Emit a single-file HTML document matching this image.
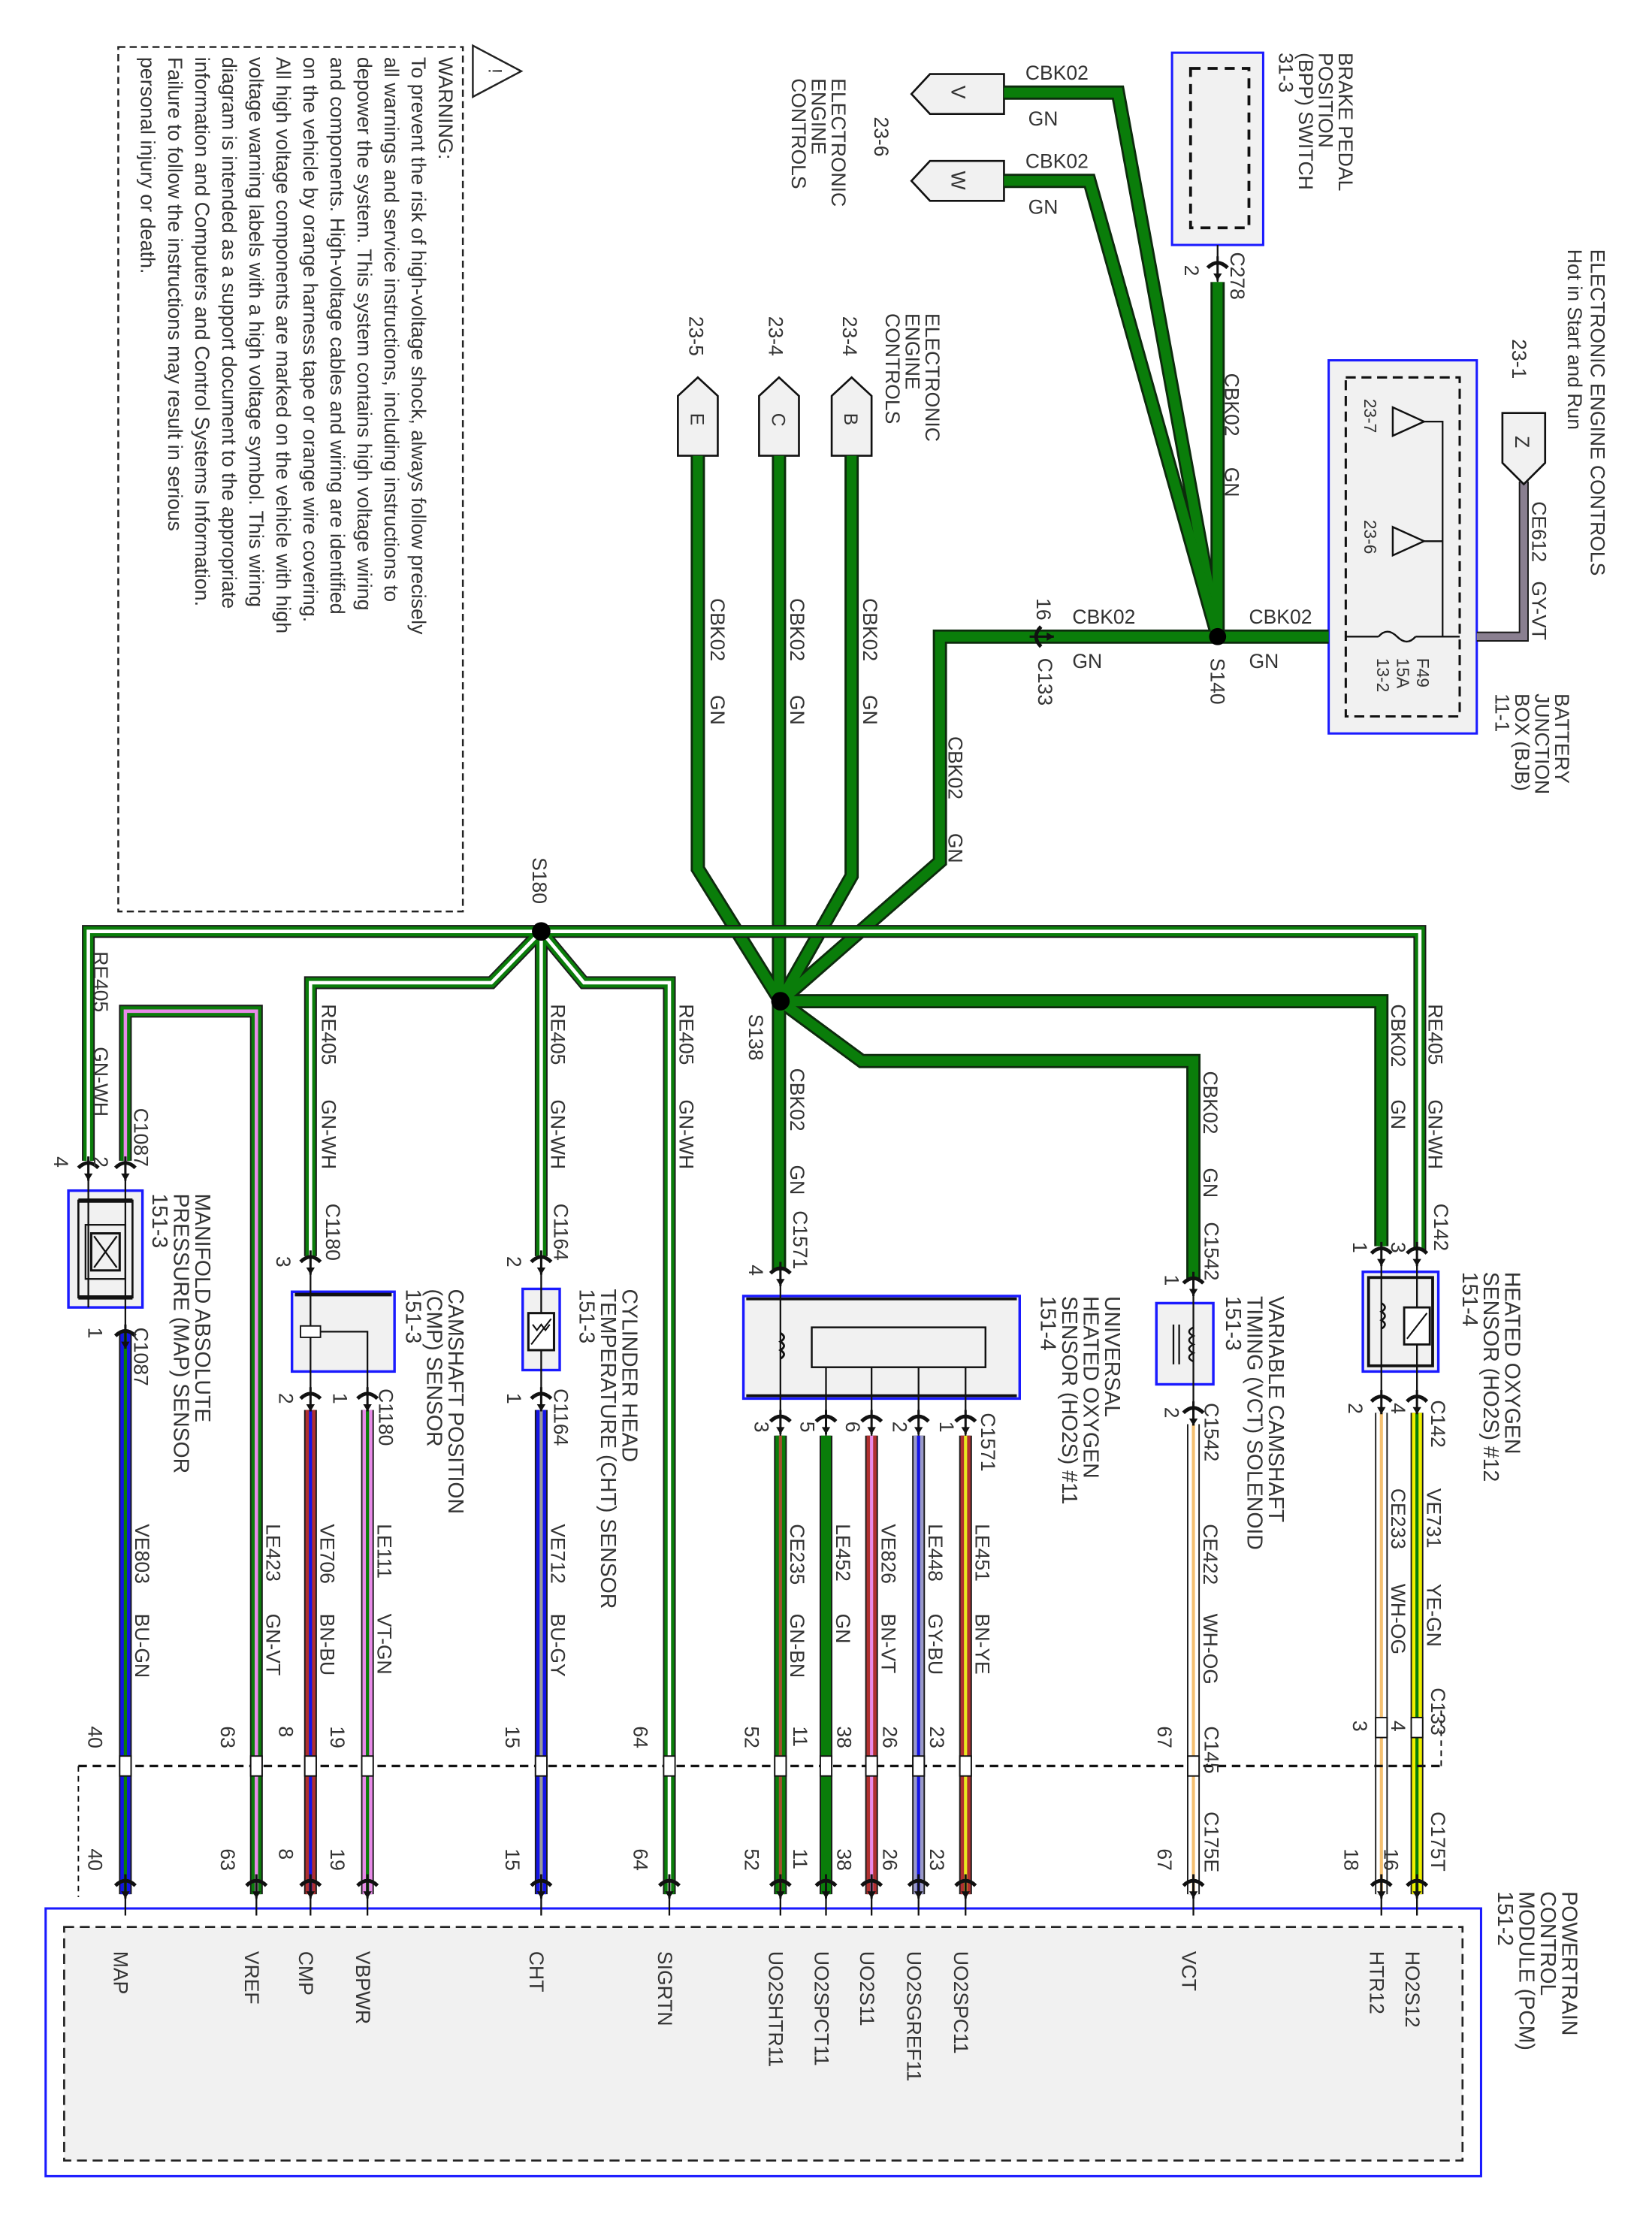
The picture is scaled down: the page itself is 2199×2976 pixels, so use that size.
<!DOCTYPE html>
<html><head><meta charset="utf-8"><style>
html,body{margin:0;padding:0;background:#fff}
svg{display:block}
text{font-family:"Liberation Sans",sans-serif;fill:#333}
.o{fill:none;stroke:#1a1a1a;stroke-linejoin:miter}
.n{fill:none;stroke-linejoin:miter}
</style></head><body>
<svg width="2199" height="2976" viewBox="0 0 1160 1570" xmlns="http://www.w3.org/2000/svg">
<defs>
<g id="pin"><path d="M-7,-2 Q0,-9 7,-2" fill="none" stroke="#111" stroke-width="2.6"/><path d="M0,-10 V7" stroke="#111" stroke-width="1.6"/><path d="M-3,2 L0,7 L3,2" fill="#111"/></g>
</defs>

<!-- Warning box -->
<rect x="83" y="33" width="242" height="607" fill="none" stroke="#222" stroke-width="1.3" stroke-dasharray="5,3"/>
<path d="M332,32 L366,50 L332,68 Z" fill="#fff" stroke="#222" stroke-width="1.3"/>
<text transform="translate(343,48) rotate(90)" font-size="13">!</text>
<g font-size="14.2">
<text transform="translate(308,40) rotate(90)">WARNING:</text>
<text transform="translate(289,40) rotate(90)">To prevent the risk of high-voltage shock, always follow precisely</text>
<text transform="translate(270,40) rotate(90)">all warnings and service instructions, including instructions to</text>
<text transform="translate(251,40) rotate(90)">depower the system. This system contains high voltage wiring</text>
<text transform="translate(232,40) rotate(90)">and components. High-voltage cables and wiring are identified</text>
<text transform="translate(213,40) rotate(90)">on the vehicle by orange harness tape or orange wire covering.</text>
<text transform="translate(194,40) rotate(90)">All high voltage components are marked on the vehicle with high</text>
<text transform="translate(175,40) rotate(90)">voltage warning labels with a high voltage symbol. This wiring</text>
<text transform="translate(156,40) rotate(90)">diagram is intended as a support document to the appropriate</text>
<text transform="translate(137,40) rotate(90)">information and Computers and Control Systems Information.</text>
<text transform="translate(118,40) rotate(90)">Failure to follow the instructions may result in serious</text>
<text transform="translate(99,40) rotate(90)">personal injury or death.</text>
</g>

<!-- PCM -->
<rect x="32" y="1340" width="1008" height="188" fill="#fff" stroke="#1a1aff" stroke-width="1.6"/>
<rect x="45" y="1353" width="982" height="164" fill="#f1f1f1" stroke="#222" stroke-width="1.4" stroke-dasharray="7,4"/>

<!-- BPP -->
<rect x="823" y="37" width="64" height="135" fill="#f1f1f1" stroke="#1a1aff" stroke-width="1.6"/>
<rect x="836" y="48" width="41" height="112" fill="none" stroke="#111" stroke-width="2" stroke-dasharray="7,5"/>
<path d="M855,172 V198" stroke="#111" stroke-width="1.2"/>
<use href="#pin" x="855" y="190"/>

<!-- BJB -->
<rect x="933" y="253" width="104" height="262" fill="#f1f1f1" stroke="#1a1aff" stroke-width="1.6"/>
<rect x="945" y="265" width="80" height="238" fill="none" stroke="#111" stroke-width="1.6" stroke-dasharray="7,4"/>
<path d="M978,286 L1000,296 L978,306 Z M978,370 L1000,380 L978,390 Z" fill="none" stroke="#111" stroke-width="1.3"/>
<path d="M1000,296 H1013 V447 M1000,380 H1013" stroke="#111" stroke-width="1.2" fill="none"/>
<path d="M945,447 H968 M994,447 H1025" stroke="#111" stroke-width="1.2"/>
<path d="M968,447 Q974,440 981,447 Q988,454 994,447" fill="none" stroke="#111" stroke-width="1.3"/>
<path class="o" d="M1070,338 V447 H1037" stroke-width="7"/>
<path class="n" d="M1070,338 V447 H1037" stroke="#8a7f90" stroke-width="5"/>
<path d="M1055,290 H1085 V325 L1070,340 L1055,325 Z" fill="#f1f1f1" stroke="#111" stroke-width="1.4"/>
<text transform="translate(1064,306) rotate(90)" font-size="14">Z</text>

<!-- connectors V W -->
<path d="M705,52 H653 L640,66 L653,80 H705 Z" fill="#f1f1f1" stroke="#111" stroke-width="1.4"/>
<path d="M705,113 H653 L640,127 L653,141 H705 Z" fill="#f1f1f1" stroke="#111" stroke-width="1.4"/>
<text transform="translate(668,60) rotate(90)" font-size="14">V</text>
<text transform="translate(668,120) rotate(90)" font-size="14">W</text>
<path d="M476,320 V278 L490,265 L504,278 V320 Z M533,320 V278 L547,265 L561,278 V320 Z M584,320 V278 L598,265 L612,278 V320 Z" fill="#f1f1f1" stroke="#111" stroke-width="1.4"/>
<text transform="translate(485,290) rotate(90)" font-size="13">E</text>
<text transform="translate(542,290) rotate(90)" font-size="13">C</text>
<text transform="translate(593,290) rotate(90)" font-size="13">B</text>

<!-- wires -->
<g fill="none" stroke-linejoin="miter">
<g stroke="#0d2b0d" stroke-width="10">
<path d="M705,65 H785 L855,447"/><path d="M705,127 H765 L855,447"/><path d="M855,198 V447"/>
<path d="M933,447 H660 V605 L548,703"/><path d="M490,320 V610 L548,703"/><path d="M547,320 V892"/>
<path d="M598,320 V615 L548,703"/><path d="M548,703 H970 V875"/><path d="M548,703 L605,745 H838 V898"/>
</g>
<g stroke="#0a7d0a" stroke-width="7">
<path d="M705,65 H785 L855,447"/><path d="M705,127 H765 L855,447"/><path d="M855,198 V447"/>
<path d="M933,447 H660 V605 L548,703"/><path d="M490,320 V610 L548,703"/><path d="M547,320 V892"/>
<path d="M598,320 V615 L548,703"/><path d="M548,703 H970 V875"/><path d="M548,703 L605,745 H838 V898"/>
</g>
<g stroke="#1a1a1a" stroke-width="9">
<path d="M62,815 V654 H997 V878"/><path d="M380,654 L345,690 H218 V882"/><path d="M380,654 V882"/><path d="M380,654 L410,690 H470 V1330"/>
<path d="M88,815 V710 H180 V1330"/>
</g>
<g stroke="#0a7d0a" stroke-width="7">
<path d="M62,815 V654 H997 V878"/><path d="M380,654 L345,690 H218 V882"/><path d="M380,654 V882"/><path d="M380,654 L410,690 H470 V1330"/>
<path d="M88,815 V710 H180 V1330"/>
</g>
<g stroke="#fff" stroke-width="2.4">
<path d="M62,815 V654 H997 V878"/><path d="M380,654 L345,690 H218 V882"/><path d="M380,654 V882"/><path d="M380,654 L410,690 H470 V1330"/>
</g>
<path d="M88,815 V710 H180 V1330" stroke="#e88be8" stroke-width="2.4"/>
<g stroke="#1a1a1a" stroke-width="9">
<path d="M88,935 V1330"/><path d="M218,990 V1330"/><path d="M258,990 V1330"/><path d="M380,990 V1330"/>
<path d="M548,1008 V1330"/><path d="M580,1008 V1330"/><path d="M612,1008 V1330"/><path d="M645,1008 V1330"/><path d="M678,1008 V1330"/>
<path d="M838,1000 V1330"/><path d="M970,992 V1330"/><path d="M995,992 V1330"/>
</g>
<path d="M88,935 V1330" stroke="#1414e6" stroke-width="7"/><path d="M88,935 V1330" stroke="#0a7d0a" stroke-width="2.2"/>
<path d="M218,990 V1330" stroke="#b03030" stroke-width="7"/><path d="M218,990 V1330" stroke="#1414e6" stroke-width="2.2"/>
<path d="M258,990 V1330" stroke="#e88be8" stroke-width="7"/><path d="M258,990 V1330" stroke="#0a7d0a" stroke-width="2.2"/>
<path d="M380,990 V1330" stroke="#1414e6" stroke-width="7"/><path d="M380,990 V1330" stroke="#999" stroke-width="2.2"/>
<path d="M548,1008 V1330" stroke="#0a7d0a" stroke-width="7"/><path d="M548,1008 V1330" stroke="#a0522d" stroke-width="2.2"/>
<path d="M580,1008 V1330" stroke="#0a7d0a" stroke-width="7"/>
<path d="M612,1008 V1330" stroke="#b03030" stroke-width="7"/><path d="M612,1008 V1330" stroke="#e88be8" stroke-width="2.2"/>
<path d="M645,1008 V1330" stroke="#9a9ac8" stroke-width="7"/><path d="M645,1008 V1330" stroke="#1414e6" stroke-width="2.2"/>
<path d="M678,1008 V1330" stroke="#b03030" stroke-width="7"/><path d="M678,1008 V1330" stroke="#e8e820" stroke-width="2.2"/>
<path d="M838,1000 V1330" stroke="#fff" stroke-width="7"/><path d="M838,1000 V1330" stroke="#f5c070" stroke-width="2.2"/>
<path d="M970,992 V1330" stroke="#fff" stroke-width="7"/><path d="M970,992 V1330" stroke="#f5c070" stroke-width="2.2"/>
<path d="M995,992 V1330" stroke="#f0f000" stroke-width="7"/><path d="M995,992 V1330" stroke="#0a7d0a" stroke-width="2.2"/>
</g>

<circle cx="855" cy="447" r="6" fill="#000"/>
<circle cx="380" cy="654" r="6.5" fill="#000"/>
<circle cx="548" cy="703" r="6.5" fill="#000"/>

<path d="M55,1240 H1012" stroke="#111" stroke-width="1.8" stroke-dasharray="6,4"/>
<path d="M55,1240 V1332 M1012,1240 V1200" stroke="#111" stroke-width="1" stroke-dasharray="4,3"/>
<g fill="#fff" stroke="#111" stroke-width="1">
<rect x="84" y="1233" width="8" height="14"/><rect x="176" y="1233" width="8" height="14"/><rect x="214" y="1233" width="8" height="14"/><rect x="254" y="1233" width="8" height="14"/><rect x="376" y="1233" width="8" height="14"/><rect x="466" y="1233" width="8" height="14"/><rect x="544" y="1233" width="8" height="14"/><rect x="576" y="1233" width="8" height="14"/><rect x="608" y="1233" width="8" height="14"/><rect x="641" y="1233" width="8" height="14"/><rect x="674" y="1233" width="8" height="14"/><rect x="834" y="1233" width="8" height="14"/><rect x="966" y="1206" width="8" height="14"/><rect x="991" y="1206" width="8" height="14"/>
</g>

<!-- components -->
<rect x="48" y="836" width="52" height="82" fill="#f1f1f1" stroke="#1a1aff" stroke-width="1.8"/>
<rect x="55" y="843" width="38" height="68" fill="none" stroke="#111" stroke-width="1.4"/>
<path d="M55,843 H93 M55,911 H93" stroke="#111" stroke-width="3"/>
<rect x="60" y="860" width="28" height="38" fill="#f1f1f1" stroke="#111" stroke-width="1.2"/>
<rect x="64" y="866" width="20" height="26" fill="none" stroke="#111" stroke-width="1.6"/>
<path d="M66,868 L82,890 M82,868 L66,890" stroke="#111" stroke-width="1.2"/>
<path d="M62,818 V918 M88,818 V935" stroke="#111" stroke-width="1.2"/>

<rect x="205" y="907" width="72" height="56" fill="#f1f1f1" stroke="#1a1aff" stroke-width="1.8"/>
<path d="M207,909 H275" stroke="#111" stroke-width="2.5"/>
<path d="M218,885 V990 M213,935 H258 V990" stroke="#111" stroke-width="1.2" fill="none"/>
<rect x="211" y="931" width="14" height="8" fill="#fff" stroke="#111"/>

<rect x="367" y="905" width="26" height="57" fill="#f1f1f1" stroke="#1a1aff" stroke-width="1.8"/>
<path d="M380,885 V990" stroke="#111" stroke-width="1.2"/>
<rect x="371" y="922" width="18" height="26" fill="#fff" stroke="#111" stroke-width="1.6"/>
<path d="M373,944 L387,926 M374,930 l3,4 l3,-4 l3,4 l3,-4" stroke="#111" fill="none" stroke-width="1.1"/>

<rect x="522" y="910" width="194" height="72" fill="#f1f1f1" stroke="#1a1aff" stroke-width="1.8"/>
<path d="M524,912 H714 M524,980 H714" stroke="#111" stroke-width="2"/>
<rect x="570" y="932" width="122" height="28" fill="#f1f1f1" stroke="#111" stroke-width="1.3"/>
<path d="M548,895 V1008 M580,960 V1008 M612,960 V1008 M645,960 V1008 M678,960 V1008" stroke="#111" stroke-width="1.2"/>
<path d="M548,936 q5,3 0,6 q5,3 0,6 q5,3 0,6" fill="none" stroke="#111" stroke-width="1.5"/>

<rect x="812" y="915" width="40" height="57" fill="#f1f1f1" stroke="#1a1aff" stroke-width="1.8"/>
<path d="M838,900 V1000 M828,930 V958 M824,930 V958" stroke="#111" stroke-width="1.2"/>
<path d="M838,932 q-6,3 0,6 q-6,3 0,6 q-6,3 0,6 q-6,3 0,6" fill="none" stroke="#111" stroke-width="1.3"/>

<rect x="957" y="893" width="53" height="70" fill="#f1f1f1" stroke="#1a1aff" stroke-width="1.8"/>
<rect x="961" y="897" width="45" height="62" fill="none" stroke="#111" stroke-width="2"/>
<path d="M970,880 V992 M995,880 V992" stroke="#111" stroke-width="1.2"/>
<rect x="986" y="918" width="18" height="26" fill="#fff" stroke="#111" stroke-width="1.5"/>
<path d="M988,940 L1002,922" stroke="#111" stroke-width="1.1"/>
<path d="M970,915 q5,3 0,6 q5,3 0,6 q5,3 0,6" fill="none" stroke="#111" stroke-width="1.4"/>

<g>
<use href="#pin" x="62" y="822"/><use href="#pin" x="88" y="822"/>
<use href="#pin" x="88" y="940"/>
<use href="#pin" x="218" y="888"/><use href="#pin" x="218" y="984"/><use href="#pin" x="258" y="984"/>
<use href="#pin" x="380" y="888"/><use href="#pin" x="380" y="984"/>
<use href="#pin" x="548" y="896"/>
<use href="#pin" x="548" y="1000"/><use href="#pin" x="580" y="1000"/><use href="#pin" x="612" y="1000"/><use href="#pin" x="645" y="1000"/><use href="#pin" x="678" y="1000"/>
<use href="#pin" x="838" y="903"/><use href="#pin" x="838" y="994"/>
<use href="#pin" x="970" y="882"/><use href="#pin" x="995" y="882"/>
<use href="#pin" x="970" y="986"/><use href="#pin" x="995" y="986"/>
<use href="#pin" x="88" y="1326"/><use href="#pin" x="180" y="1326"/><use href="#pin" x="218" y="1326"/><use href="#pin" x="258" y="1326"/><use href="#pin" x="380" y="1326"/><use href="#pin" x="470" y="1326"/><use href="#pin" x="548" y="1326"/><use href="#pin" x="580" y="1326"/><use href="#pin" x="612" y="1326"/><use href="#pin" x="645" y="1326"/><use href="#pin" x="678" y="1326"/><use href="#pin" x="838" y="1326"/><use href="#pin" x="970" y="1326"/><use href="#pin" x="995" y="1326"/>
<use href="#pin" x="733" y="447" transform="rotate(-90 733 447)"/>
</g>
<path d="M88,1326 V1345 M180,1326 V1345 M218,1326 V1345 M258,1326 V1345 M380,1326 V1345 M470,1326 V1345 M548,1326 V1345 M580,1326 V1345 M612,1326 V1345 M645,1326 V1345 M678,1326 V1345 M838,1326 V1345 M970,1326 V1345 M995,1326 V1345" stroke="#111" stroke-width="1.2"/>

<g font-size="14">
<text x="720" y="56">CBK02</text><text x="722" y="88">GN</text>
<text x="720" y="118">CBK02</text><text x="722" y="150">GN</text>
<text x="877" y="438">CBK02</text><text x="877" y="469">GN</text>
<text x="753" y="438">CBK02</text><text x="753" y="469">GN</text>
</g>

<g font-size="14">
<text transform="translate(940,37) rotate(90)">BRAKE PEDAL</text>
<text transform="translate(926,37) rotate(90)">POSITION</text>
<text transform="translate(912,37) rotate(90)">(BPP) SWITCH</text>
<text transform="translate(898,37) rotate(90)">31-3</text>
<text transform="translate(864,177) rotate(90)">C278</text>
<text transform="translate(832,186) rotate(90)">2</text>
<text transform="translate(860,262) rotate(90)">CBK02</text>
<text transform="translate(860,328) rotate(90)">GN</text>
<text transform="translate(1117,175) rotate(90)">ELECTRONIC ENGINE CONTROLS</text>
<text transform="translate(1101,175) rotate(90)">Hot in Start and Run</text>
<text transform="translate(1062,238) rotate(90)">23-1</text>
<text transform="translate(1076,352) rotate(90)">CE612</text>
<text transform="translate(1076,408) rotate(90)">GY-VT</text>
<text transform="translate(1092,487) rotate(90)">BATTERY</text>
<text transform="translate(1078,487) rotate(90)">JUNCTION</text>
<text transform="translate(1064,487) rotate(90)">BOX (BJB)</text>
<text transform="translate(1050,487) rotate(90)">11-1</text>
<text transform="translate(614,82) rotate(90)">23-6</text>
<text transform="translate(584,55) rotate(90)">ELECTRONIC</text>
<text transform="translate(570,55) rotate(90)">ENGINE</text>
<text transform="translate(556,55) rotate(90)">CONTROLS</text>
<text transform="translate(650,220) rotate(90)">ELECTRONIC</text>
<text transform="translate(636,220) rotate(90)">ENGINE</text>
<text transform="translate(622,220) rotate(90)">CONTROLS</text>
<text transform="translate(484,222) rotate(90)">23-5</text>
<text transform="translate(540,222) rotate(90)">23-4</text>
<text transform="translate(592,222) rotate(90)">23-4</text>
<text transform="translate(499,420) rotate(90)">CBK02</text><text transform="translate(499,488) rotate(90)">GN</text>
<text transform="translate(555,420) rotate(90)">CBK02</text><text transform="translate(555,488) rotate(90)">GN</text>
<text transform="translate(606,420) rotate(90)">CBK02</text><text transform="translate(606,488) rotate(90)">GN</text>
<text transform="translate(666,517) rotate(90)">CBK02</text><text transform="translate(666,585) rotate(90)">GN</text>
<text transform="translate(728,420) rotate(90)">16</text>
<text transform="translate(729,462) rotate(90)">C133</text>
<text transform="translate(850,462) rotate(90)">S140</text>
<text transform="translate(374,602) rotate(90)">S180</text>
<text transform="translate(526,712) rotate(90)">S138</text>
<text transform="translate(66,668) rotate(90)">RE405</text><text transform="translate(66,735) rotate(90)">GN-WH</text>
<text transform="translate(226,705) rotate(90)">RE405</text><text transform="translate(226,772) rotate(90)">GN-WH</text>
<text transform="translate(387,705) rotate(90)">RE405</text><text transform="translate(387,772) rotate(90)">GN-WH</text>
<text transform="translate(477,705) rotate(90)">RE405</text><text transform="translate(477,772) rotate(90)">GN-WH</text>
<text transform="translate(555,750) rotate(90)">CBK02</text><text transform="translate(555,818) rotate(90)">GN</text>
<text transform="translate(845,752) rotate(90)">CBK02</text><text transform="translate(845,820) rotate(90)">GN</text>
<text transform="translate(977,705) rotate(90)">CBK02</text><text transform="translate(977,772) rotate(90)">GN</text>
<text transform="translate(1003,705) rotate(90)">RE405</text><text transform="translate(1003,772) rotate(90)">GN-WH</text>
<text transform="translate(94,778) rotate(90)">C1087</text>
<text transform="translate(229,845) rotate(90)">C1180</text>
<text transform="translate(389,845) rotate(90)">C1164</text>
<text transform="translate(557,850) rotate(90)">C1571</text>
<text transform="translate(846,858) rotate(90)">C1542</text>
<text transform="translate(1007,845) rotate(90)">C142</text>
<text transform="translate(94,932) rotate(90)">C1087</text>
<text transform="translate(266,975) rotate(90)">C1180</text>
<text transform="translate(389,975) rotate(90)">C1164</text>
<text transform="translate(689,992) rotate(90)">C1571</text>
<text transform="translate(846,985) rotate(90)">C1542</text>
<text transform="translate(1005,983) rotate(90)">C142</text>
<text transform="translate(1005,1185) rotate(90)">C133</text>
<text transform="translate(846,1212) rotate(90)">C145</text>
<text transform="translate(846,1272) rotate(90)">C175E</text>
<text transform="translate(1005,1272) rotate(90)">C175T</text>
<text transform="translate(38,812) rotate(90)">4</text><text transform="translate(66,812) rotate(90)">2</text>
<text transform="translate(62,932) rotate(90)">1</text>
<text transform="translate(194,882) rotate(90)">3</text><text transform="translate(356,882) rotate(90)">2</text>
<text transform="translate(526,888) rotate(90)">4</text><text transform="translate(818,895) rotate(90)">1</text>
<text transform="translate(950,872) rotate(90)">1</text><text transform="translate(977,872) rotate(90)">3</text>
<text transform="translate(196,978) rotate(90)">2</text><text transform="translate(234,978) rotate(90)">1</text>
<text transform="translate(356,978) rotate(90)">1</text>
<text transform="translate(530,998) rotate(90)">3</text><text transform="translate(562,998) rotate(90)">5</text><text transform="translate(594,998) rotate(90)">6</text><text transform="translate(627,998) rotate(90)">2</text><text transform="translate(660,998) rotate(90)">1</text>
<text transform="translate(818,988) rotate(90)">2</text>
<text transform="translate(947,985) rotate(90)">2</text><text transform="translate(977,985) rotate(90)">4</text>
<text transform="translate(950,1208) rotate(90)">3</text><text transform="translate(977,1208) rotate(90)">4</text>
<g>
<text transform="translate(62,1212) rotate(90)">40</text><text transform="translate(155,1212) rotate(90)">63</text><text transform="translate(196,1212) rotate(90)">8</text><text transform="translate(232,1212) rotate(90)">19</text><text transform="translate(355,1212) rotate(90)">15</text><text transform="translate(445,1212) rotate(90)">64</text><text transform="translate(523,1212) rotate(90)">52</text><text transform="translate(557,1212) rotate(90)">11</text><text transform="translate(588,1212) rotate(90)">38</text><text transform="translate(620,1212) rotate(90)">26</text><text transform="translate(653,1212) rotate(90)">23</text><text transform="translate(813,1212) rotate(90)">67</text>
<text transform="translate(62,1298) rotate(90)">40</text><text transform="translate(155,1298) rotate(90)">63</text><text transform="translate(196,1298) rotate(90)">8</text><text transform="translate(232,1298) rotate(90)">19</text><text transform="translate(355,1298) rotate(90)">15</text><text transform="translate(445,1298) rotate(90)">64</text><text transform="translate(523,1298) rotate(90)">52</text><text transform="translate(557,1298) rotate(90)">11</text><text transform="translate(588,1298) rotate(90)">38</text><text transform="translate(620,1298) rotate(90)">26</text><text transform="translate(653,1298) rotate(90)">23</text><text transform="translate(813,1298) rotate(90)">67</text><text transform="translate(944,1298) rotate(90)">18</text><text transform="translate(972,1298) rotate(90)">16</text>
</g>
<text transform="translate(95,1070) rotate(90)">VE803</text><text transform="translate(95,1133) rotate(90)">BU-GN</text>
<text transform="translate(187,1070) rotate(90)">LE423</text><text transform="translate(187,1133) rotate(90)">GN-VT</text>
<text transform="translate(225,1070) rotate(90)">VE706</text><text transform="translate(225,1133) rotate(90)">BN-BU</text>
<text transform="translate(265,1070) rotate(90)">LE111</text><text transform="translate(265,1133) rotate(90)">VT-GN</text>
<text transform="translate(387,1070) rotate(90)">VE712</text><text transform="translate(387,1133) rotate(90)">BU-GY</text>
<text transform="translate(555,1070) rotate(90)">CE235</text><text transform="translate(555,1133) rotate(90)">GN-BN</text>
<text transform="translate(587,1070) rotate(90)">LE452</text><text transform="translate(587,1133) rotate(90)">GN</text>
<text transform="translate(619,1070) rotate(90)">VE826</text><text transform="translate(619,1133) rotate(90)">BN-VT</text>
<text transform="translate(652,1070) rotate(90)">LE448</text><text transform="translate(652,1133) rotate(90)">GY-BU</text>
<text transform="translate(685,1070) rotate(90)">LE451</text><text transform="translate(685,1133) rotate(90)">BN-YE</text>
<text transform="translate(845,1070) rotate(90)">CE422</text><text transform="translate(845,1133) rotate(90)">WH-OG</text>
<text transform="translate(977,1045) rotate(90)">CE233</text><text transform="translate(977,1112) rotate(90)">WH-OG</text>
<text transform="translate(1002,1045) rotate(90)">VE731</text><text transform="translate(1002,1112) rotate(90)">YE-GN</text>
<text transform="translate(80,1370) rotate(90)">MAP</text>
<text transform="translate(172,1370) rotate(90)">VREF</text>
<text transform="translate(210,1370) rotate(90)">CMP</text>
<text transform="translate(250,1370) rotate(90)">VBPWR</text>
<text transform="translate(372,1370) rotate(90)">CHT</text>
<text transform="translate(462,1370) rotate(90)">SIGRTN</text>
<text transform="translate(540,1370) rotate(90)">UO2SHTR11</text>
<text transform="translate(572,1370) rotate(90)">UO2SPCT11</text>
<text transform="translate(604,1370) rotate(90)">UO2S11</text>
<text transform="translate(637,1370) rotate(90)">UO2SGREF11</text>
<text transform="translate(670,1370) rotate(90)">UO2SPC11</text>
<text transform="translate(830,1370) rotate(90)">VCT</text>
<text transform="translate(962,1370) rotate(90)">HTR12</text>
<text transform="translate(987,1370) rotate(90)">HO2S12</text>
</g>
<g font-size="15">
<text transform="translate(137,838) rotate(90)">MANIFOLD ABSOLUTE</text>
<text transform="translate(122,838) rotate(90)">PRESSURE (MAP) SENSOR</text>
<text transform="translate(107,838) rotate(90)">151-3</text>
<text transform="translate(315,905) rotate(90)">CAMSHAFT POSITION</text>
<text transform="translate(300,905) rotate(90)">(CMP) SENSOR</text>
<text transform="translate(285,905) rotate(90)">151-3</text>
<text transform="translate(437,905) rotate(90)">CYLINDER HEAD</text>
<text transform="translate(422,905) rotate(90)">TEMPERATURE (CHT) SENSOR</text>
<text transform="translate(407,905) rotate(90)">151-3</text>
<text transform="translate(776,910) rotate(90)">UNIVERSAL</text>
<text transform="translate(761,910) rotate(90)">HEATED OXYGEN</text>
<text transform="translate(746,910) rotate(90)">SENSOR (HO2S) #11</text>
<text transform="translate(731,910) rotate(90)">151-4</text>
<text transform="translate(891,910) rotate(90)">VARIABLE CAMSHAFT</text>
<text transform="translate(876,910) rotate(90)">TIMING (VCT) SOLENOID</text>
<text transform="translate(861,910) rotate(90)">151-3</text>
<text transform="translate(1057,893) rotate(90)">HEATED OXYGEN</text>
<text transform="translate(1042,893) rotate(90)">SENSOR (HO2S) #12</text>
<text transform="translate(1027,893) rotate(90)">151-4</text>
<text transform="translate(1097,1328) rotate(90)">POWERTRAIN</text>
<text transform="translate(1082,1328) rotate(90)">CONTROL</text>
<text transform="translate(1067,1328) rotate(90)">MODULE (PCM)</text>
<text transform="translate(1052,1328) rotate(90)">151-2</text>
</g>
<g font-size="12">
<text transform="translate(995,462) rotate(90)">F49</text>
<text transform="translate(981,462) rotate(90)">15A</text>
<text transform="translate(967,462) rotate(90)">13-2</text>
<text transform="translate(958,280) rotate(90)">23-7</text>
<text transform="translate(958,365) rotate(90)">23-6</text>
</g>
</svg>
</body></html>
